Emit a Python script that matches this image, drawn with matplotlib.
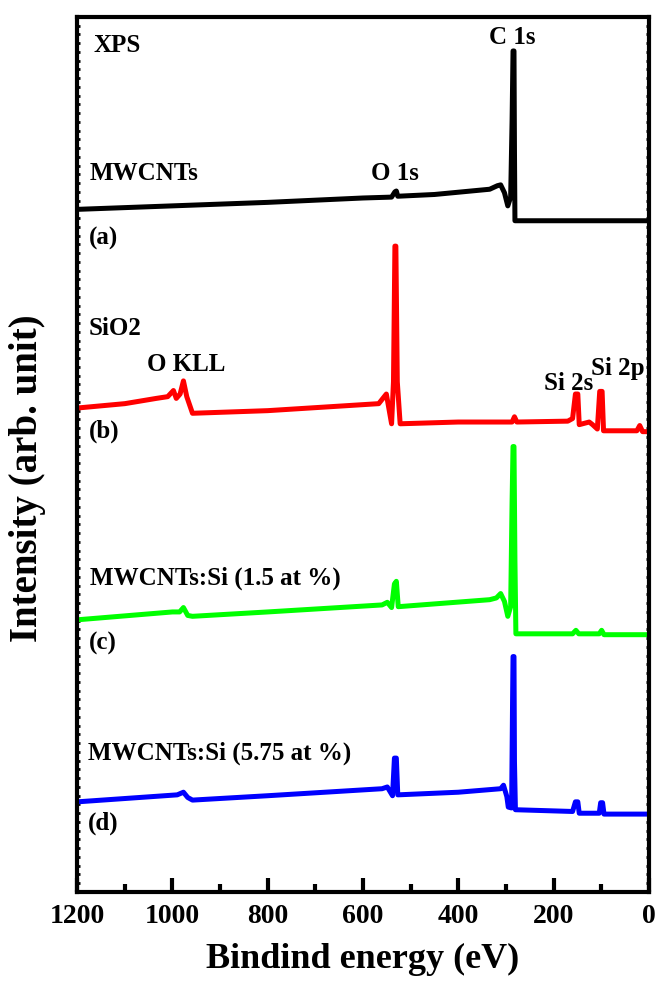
import numpy as np
import matplotlib.pyplot as plt
from matplotlib.ticker import MultipleLocator

plt.rcParams['font.family'] = ['Liberation Serif', 'DejaVu Serif']
plt.rcParams['font.weight'] = 'bold'

# survey spectra, offset vertically (binding energy in eV, intensity in a.u.)
e_cnt = [1200, 1000, 800, 600, 540, 533, 530, 527, 450, 334, 318, 311, 303,
         296, 290, 287, 285, 283, 282, 281, 0]
i_cnt = [78.0, 78.4, 78.8, 79.3, 79.4, 80.0, 80.1, 79.5, 79.7, 80.3, 80.7,
         80.8, 79.9, 78.4, 79.4, 88.1, 96.1, 96.1, 84.7, 76.7, 76.7]

e_sio2 = [1200, 1100, 1034, 1010, 998, 992, 984, 977, 970, 958, 800, 567,
          551, 540, 536, 533, 531, 528, 522, 400, 287, 282, 277, 170, 160,
          154, 149, 146, 125, 118, 108, 103, 98, 95, 25, 19, 13, 0]
i_sio2 = [55.3, 55.8, 56.4, 56.6, 57.3, 56.4, 56.9, 58.4, 56.6, 54.7, 55.0,
          55.8, 56.9, 53.5, 58.3, 73.8, 73.8, 58.3, 53.5, 53.7, 53.7, 54.3,
          53.7, 53.8, 54.1, 56.9, 56.9, 53.4, 53.7, 53.4, 52.9, 57.2, 57.2,
          52.7, 52.7, 53.3, 52.6, 52.6]

e_si15 = [1200, 1000, 985, 977, 968, 958, 800, 560, 549, 540, 534, 530, 526,
          334, 320, 311, 303, 296, 290, 287, 285, 283, 281, 279, 160, 153,
          147, 104, 99, 94, 0]
i_si15 = [31.1, 32.0, 32.0, 32.5, 31.6, 31.5, 32.0, 32.8, 33.1, 32.5, 35.2,
          35.5, 32.6, 33.4, 33.6, 34.1, 33.2, 31.5, 32.6, 44.6, 50.9, 50.9,
          37.8, 29.5, 29.5, 29.9, 29.5, 29.5, 29.9, 29.4, 29.4]

e_si575 = [1200, 990, 977, 968, 958, 800, 560, 549, 538, 534, 530, 527, 400,
           311, 305, 298, 295, 288, 286, 285, 283, 282, 280, 160, 154, 149,
           146, 104, 101, 97, 94, 0]
i_si575 = [10.3, 11.1, 11.4, 10.8, 10.5, 11.0, 11.8, 12.0, 11.0, 15.3, 15.3,
           11.1, 11.4, 11.8, 12.2, 10.9, 9.7, 9.6, 21.7, 26.9, 26.9, 14.9,
           9.4, 9.2, 10.3, 10.3, 9.0, 9.0, 10.2, 10.2, 8.9, 8.9]

fig = plt.figure(figsize=(6.6, 9.9), dpi=100)
ax = fig.add_axes([0.117, 0.099, 0.866, 0.884])

lw = 3.6
ax.plot(e_cnt, i_cnt, color='black', lw=lw, solid_joinstyle='round')
ax.plot(e_sio2, i_sio2, color='#ff0000', lw=lw, solid_joinstyle='round')
ax.plot(e_si15, i_si15, color='#00ff00', lw=lw, solid_joinstyle='round')
ax.plot(e_si575, i_si575, color='#0000ff', lw=lw, solid_joinstyle='round')

ax.set_xlim(1200, 0)
ax.set_ylim(0, 100)

ax.xaxis.set_major_locator(MultipleLocator(200))
ax.xaxis.set_minor_locator(MultipleLocator(100))
ax.yaxis.set_major_locator(MultipleLocator(5))
ax.yaxis.set_minor_locator(MultipleLocator(1))
ax.tick_params(axis='x', which='major', direction='in', length=10, width=3,
               labelsize=20, pad=9, top=False)
ax.tick_params(axis='x', which='minor', direction='in', length=6, width=3,
               top=False)
ax.tick_params(axis='y', which='both', direction='in', length=2, width=2,
               left=True, right=True, labelleft=False)
for lab in ax.get_xticklabels():
    lab.set_fontweight('bold')
for sp in ax.spines.values():
    sp.set_linewidth(3)

ax.set_xlabel('Bindind energy (eV)', fontsize=26, fontweight='bold',
              labelpad=10)
fig.text(0.042, 0.517, 'Intensity (arb. unit)', fontsize=28,
         fontweight='bold', rotation=90, ha='center', va='center')

fs = 18
ax.text(1166, 96.7, 'XPS', fontsize=fs, va='center', ha='left')
ax.text(286, 97.6, 'C 1s', fontsize=fs, va='center', ha='center')
ax.text(1173, 82.1, 'MWCNTs', fontsize=fs, va='center', ha='left')
ax.text(532, 82.1, 'O 1s', fontsize=fs, va='center', ha='center')
ax.text(1175, 74.7, '(a)', fontsize=fs, va='center', ha='left')
ax.text(1177, 64.4, 'SiO2', fontsize=fs, va='center', ha='left')
ax.text(1053, 60.3, 'O KLL', fontsize=fs, va='center', ha='left')
ax.text(221, 58.1, 'Si 2s', fontsize=fs, va='center', ha='left')
ax.text(122, 59.8, 'Si 2p', fontsize=fs, va='center', ha='left')
ax.text(1175, 52.6, '(b)', fontsize=fs, va='center', ha='left')
ax.text(1173, 35.9, 'MWCNTs:Si (1.5 at %)', fontsize=fs, va='center',
        ha='left')
ax.text(1175, 28.4, '(c)', fontsize=fs, va='center', ha='left')
ax.text(1177, 15.8, 'MWCNTs:Si (5.75 at %)', fontsize=fs, va='center',
        ha='left')
ax.text(1177, 7.8, '(d)', fontsize=fs, va='center', ha='left')

fig.savefig('out.png', dpi=100)
